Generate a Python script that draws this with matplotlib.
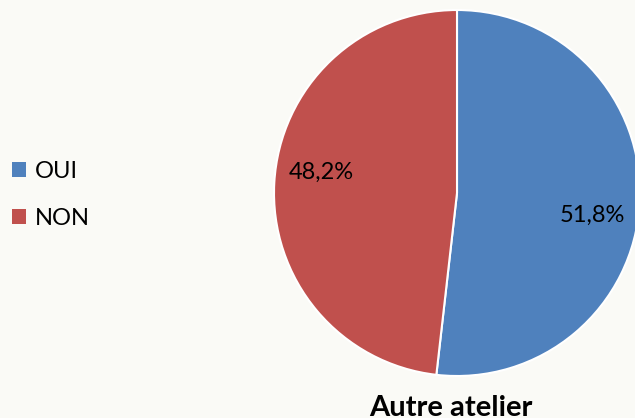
import matplotlib
matplotlib.use("Agg")
import matplotlib.pyplot as plt
from matplotlib.patches import Patch

labels = ["OUI", "NON"]
values = [51.8, 48.2]
colors = ["#4F81BD", "#C0504D"]
title = "Autre atelier"

W, H = 635, 418
bg = "#FAFAF6"
plt.rcParams['font.family'] = ['Lato', 'DejaVu Sans']

fig = plt.figure(figsize=(W / 100, H / 100), dpi=100, facecolor=bg)
ax = fig.add_axes([0, 0, 1, 1])
ax.set_facecolor(bg)

def fmt(p):
    return f"{p:.1f}%".replace('.', ',')

wedges, texts, autotexts = ax.pie(
    values, colors=colors, startangle=90, counterclock=False,
    center=(457, H - 193), radius=183, autopct=fmt, pctdistance=0.74,
    wedgeprops=dict(edgecolor='white', linewidth=1.5),
    textprops=dict(fontsize=17, color='black'), frame=True)
ax.set_xlim(0, W)
ax.set_ylim(0, H)
ax.set_aspect('equal')
ax.axis('off')

# small vertical nudges to match the label placement of the original
for t, dy in zip(autotexts, [-15, 13]):
    x, y = t.get_position()
    t.set_position((x, y + dy))

handles = [Patch(facecolor=c, edgecolor='none') for c in colors]
fig.legend(handles, labels, loc='center left', bbox_to_anchor=(-0.015, (H - 195) / H),
           frameon=False, fontsize=17, handlelength=0.6, handleheight=0.6,
           handletextpad=0.4, labelspacing=1.1)

fig.text(451 / W, (H - 395) / H, title, ha='center', va='top', fontsize=21,
         fontweight='bold')

fig.savefig("out.png", dpi=100, facecolor=bg)
